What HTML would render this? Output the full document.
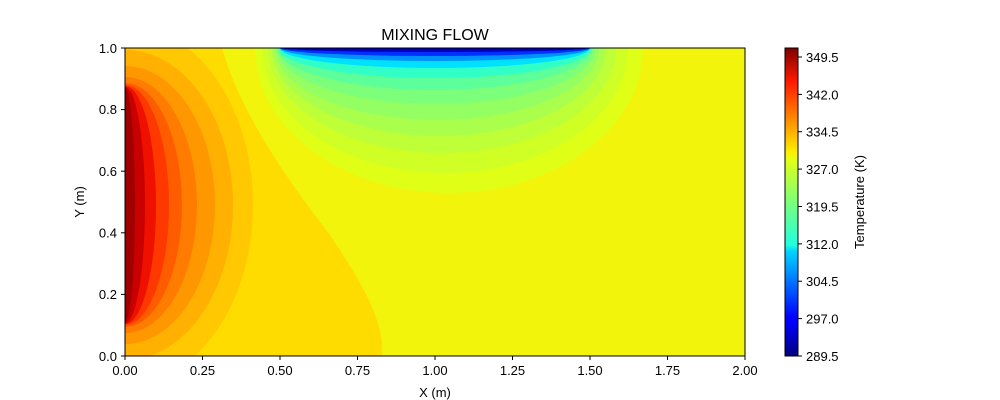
<!DOCTYPE html>
<html><head><style>body{margin:0;background:#fff}svg{display:block;font-family:"Liberation Sans","DejaVu Sans",sans-serif}</style></head><body>
<svg width="1000" height="400" viewBox="0 0 1000 400">
<defs>
<clipPath id="c"><rect x="125" y="48" width="620" height="308"/></clipPath>
<linearGradient id="jet" x1="0" y1="1" x2="0" y2="0">
<stop offset="0" stop-color="#00007f"/><stop offset="0.11" stop-color="#0000ff"/><stop offset="0.125" stop-color="#0000ff"/><stop offset="0.34" stop-color="#00d4ff"/><stop offset="0.36" stop-color="#1fffe0"/><stop offset="0.5" stop-color="#7dff7a"/><stop offset="0.64" stop-color="#e4ff13"/><stop offset="0.66" stop-color="#fff000"/><stop offset="0.89" stop-color="#ff1a00"/><stop offset="1" stop-color="#7f0000"/>
</linearGradient>
</defs>
<g clip-path="url(#c)">
<rect x="125" y="48" width="620" height="308" fill="#f2f40b"/>
<path d="M125,48 L222,48 C240,110 280,170 330,235 C360,280 385,320 382,356 L125,356 Z" fill="#ffdc00"/>
<g>
<ellipse cx="125" cy="205" rx="128" ry="180" fill="#ffc800"/>
<ellipse cx="125" cy="205" rx="108" ry="155" fill="#ffb000"/>
<ellipse cx="125" cy="205" rx="90" ry="139" fill="#ff9800"/>
<ellipse cx="125" cy="205" rx="72" ry="128" fill="#ff7c00"/>
<ellipse cx="125" cy="205" rx="57" ry="122" fill="#ff5c00"/>
<ellipse cx="125" cy="205" rx="44" ry="120" fill="#ff3800"/>
<ellipse cx="125" cy="205" rx="31" ry="119" fill="#f01000"/>
<ellipse cx="125" cy="205" rx="20" ry="118" fill="#c80000"/>
<ellipse cx="125" cy="205" rx="10" ry="117" fill="#a00000"/>
</g>
<g>
<ellipse cx="449" cy="48" rx="194" ry="145" fill="#e0ff16"/>
<ellipse cx="445" cy="48" rx="183" ry="125" fill="#d0ff26"/>
<ellipse cx="442" cy="48" rx="174" ry="105" fill="#beff38"/>
<ellipse cx="439" cy="48" rx="167" ry="88" fill="#aaff4c"/>
<ellipse cx="437" cy="48" rx="162" ry="72" fill="#94ff62"/>
<ellipse cx="436" cy="48" rx="159" ry="56" fill="#7cff7a"/>
<ellipse cx="435" cy="48" rx="157" ry="42" fill="#5cff9a"/>
<ellipse cx="435" cy="48" rx="156" ry="30" fill="#30ffc8"/>
<ellipse cx="435" cy="48" rx="155" ry="20" fill="#00e0ff"/>
<ellipse cx="435" cy="48" rx="155" ry="13" fill="#0090ff"/>
<ellipse cx="435" cy="48" rx="155" ry="8" fill="#0030ff"/>
<ellipse cx="435" cy="48" rx="154" ry="4" fill="#0000c0"/>
</g>
</g>
<rect x="125" y="48" width="620" height="308" fill="none" stroke="#000" stroke-width="1"/>
<text x="435" y="40" font-size="16" text-anchor="middle">MIXING FLOW</text>
<g stroke="#000">
<line x1="125" y1="356" x2="125" y2="360"/><line x1="202.5" y1="356" x2="202.5" y2="360"/><line x1="280" y1="356" x2="280" y2="360"/><line x1="357.5" y1="356" x2="357.5" y2="360"/><line x1="435" y1="356" x2="435" y2="360"/><line x1="512.5" y1="356" x2="512.5" y2="360"/><line x1="590" y1="356" x2="590" y2="360"/><line x1="667.5" y1="356" x2="667.5" y2="360"/><line x1="745" y1="356" x2="745" y2="360"/>
<line x1="121" y1="356" x2="125" y2="356"/><line x1="121" y1="294.4" x2="125" y2="294.4"/><line x1="121" y1="232.8" x2="125" y2="232.8"/><line x1="121" y1="171.2" x2="125" y2="171.2"/><line x1="121" y1="109.6" x2="125" y2="109.6"/><line x1="121" y1="48" x2="125" y2="48"/>
</g>
<g font-size="13" text-anchor="middle">
<text x="125" y="375">0.00</text><text x="202.5" y="375">0.25</text><text x="280" y="375">0.50</text><text x="357.5" y="375">0.75</text><text x="435" y="375">1.00</text><text x="512.5" y="375">1.25</text><text x="590" y="375">1.50</text><text x="667.5" y="375">1.75</text><text x="745" y="375">2.00</text>
<text x="435" y="397">X (m)</text>
</g>
<g font-size="13" text-anchor="end">
<text x="117" y="361">0.0</text><text x="117" y="299">0.2</text><text x="117" y="237.5">0.4</text><text x="117" y="176">0.6</text><text x="117" y="114">0.8</text><text x="117" y="53">1.0</text>
</g>
<text transform="translate(84,202) rotate(-90)" font-size="13" text-anchor="middle">Y (m)</text>
<rect x="785" y="48" width="13" height="308" fill="url(#jet)" stroke="#000" stroke-width="1"/>
<g stroke="#000">
<line x1="798" y1="356" x2="802" y2="356"/><line x1="798" y1="318.6" x2="802" y2="318.6"/><line x1="798" y1="281.2" x2="802" y2="281.2"/><line x1="798" y1="243.9" x2="802" y2="243.9"/><line x1="798" y1="206.5" x2="802" y2="206.5"/><line x1="798" y1="169.1" x2="802" y2="169.1"/><line x1="798" y1="131.7" x2="802" y2="131.7"/><line x1="798" y1="94.4" x2="802" y2="94.4"/><line x1="798" y1="57" x2="802" y2="57"/>
</g>
<g font-size="13">
<text x="806" y="361">289.5</text><text x="806" y="323.6">297.0</text><text x="806" y="286.2">304.5</text><text x="806" y="248.9">312.0</text><text x="806" y="211.5">319.5</text><text x="806" y="174.1">327.0</text><text x="806" y="136.7">334.5</text><text x="806" y="99.4">342.0</text><text x="806" y="62">349.5</text>
</g>
<text transform="translate(864,202) rotate(-90)" font-size="13" text-anchor="middle">Temperature (K)</text>
</svg>
</body></html>
